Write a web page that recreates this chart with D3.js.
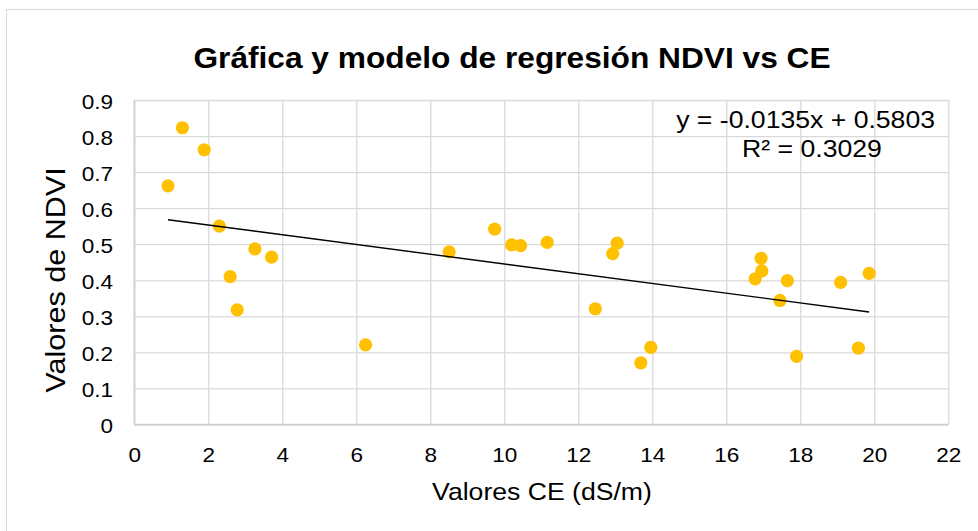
<!DOCTYPE html>
<html>
<head>
<meta charset="utf-8">
<script src="https://cdn.jsdelivr.net/npm/d3@7/dist/d3.min.js"></script>
<style>
  body { margin: 0; background: #fff; }
  svg { display: block; font-family: "Liberation Sans", Arial, sans-serif; }
</style>
</head>
<body>
<script>
const WIDTH = 978;
const HEIGHT = 531;

// data
const ceValues   = [0.91, 1.30, 1.89, 2.30, 2.59, 2.78, 3.26, 3.71, 6.25, 8.51, 9.74, 10.20, 10.44, 11.16,
                    12.46, 12.93, 13.05, 13.69, 13.96, 16.78, 16.94, 16.96, 17.45, 17.65, 17.90, 19.09, 19.57, 19.86];
const ndviValues = [0.662, 0.823, 0.762, 0.550, 0.410, 0.318, 0.487, 0.464, 0.221, 0.479, 0.542, 0.498, 0.496, 0.505,
                    0.321, 0.474, 0.503, 0.171, 0.214, 0.404, 0.461, 0.426, 0.344, 0.399, 0.189, 0.394, 0.212, 0.419];

const xTicks = [0, 2, 4, 6, 8, 10, 12, 14, 16, 18, 20, 22];
const yTicks = [0, 0.1, 0.2, 0.3, 0.4, 0.5, 0.6, 0.7, 0.8, 0.9];
const yTickLabels = ['0', '0.1', '0.2', '0.3', '0.4', '0.5', '0.6', '0.7', '0.8', '0.9'];

const SLOPE = -0.0135;
const INTERCEPT = 0.5803;
const R2 = 0.3029;

const PLOT = { left: 134.3, right: 948.3, top: 100, bottom: 424.5 };
const SX = 1.1;   // text in the original is drawn a bit wider than Arial
const GRID = '#d9d9d9';
const TICK_SIZE = 20.5;

const x = d3.scaleLinear().domain([0, 22]).range([PLOT.left, PLOT.right]);
const y = d3.scaleLinear().domain([0, 0.9]).range([PLOT.bottom, PLOT.top]);

const svg = d3.select('body')
    .append('svg')
    .attr('width', WIDTH)
    .attr('height', HEIGHT);

// chart border
svg.append('rect')
    .attr('x', 6.5).attr('y', 9.5)
    .attr('width', 1000).attr('height', 600)
    .attr('fill', '#fff')
    .attr('stroke', GRID);

// stretched text placed at an anchor point
function label(g, text, px, py, opts) {
    return g.append('text')
        .attr('transform', `translate(${px},${py}) rotate(${opts.rotate || 0}) scale(${SX},1)`)
        .attr('text-anchor', opts.anchor || 'middle')
        .attr('font-size', opts.size)
        .attr('font-weight', opts.weight || 'normal')
        .attr('fill', '#000')
        .text(text);
}

// x grid + labels
const xAxis = svg.append('g')
    .attr('transform', `translate(0,${PLOT.bottom})`)
    .call(d3.axisBottom(x).tickValues(xTicks).tickSize(-(PLOT.bottom - PLOT.top)).tickFormat(d3.format('d')));
xAxis.select('.domain').remove();
xAxis.selectAll('.tick line').attr('stroke', GRID).attr('stroke-width', 1.3);
xAxis.selectAll('.tick text')
    .attr('y', 37.5).attr('dy', null)
    .attr('transform', `scale(${SX},1)`)
    .attr('font-size', TICK_SIZE)
    .attr('font-family', '"Liberation Sans", Arial, sans-serif')
    .attr('fill', '#000');

// y grid + labels
const yAxis = svg.append('g')
    .attr('transform', `translate(${PLOT.left},0)`)
    .call(d3.axisLeft(y).tickValues(yTicks).tickSize(-(PLOT.right - PLOT.left)).tickFormat((d, i) => yTickLabels[i]));
yAxis.select('.domain').remove();
yAxis.selectAll('.tick line').attr('stroke', GRID).attr('stroke-width', 1.3);
yAxis.selectAll('.tick text')
    .attr('x', -21.3 / SX).attr('y', 8).attr('dy', null)
    .attr('transform', `scale(${SX},1)`)
    .attr('font-size', TICK_SIZE)
    .attr('font-family', '"Liberation Sans", Arial, sans-serif')
    .attr('fill', '#000');

// axis lines
svg.append('line')
    .attr('x1', PLOT.left).attr('x2', PLOT.left)
    .attr('y1', PLOT.top).attr('y2', PLOT.bottom)
    .attr('stroke', '#cfcfcf').attr('stroke-width', 1.6);
svg.append('line')
    .attr('x1', PLOT.left).attr('x2', PLOT.right)
    .attr('y1', PLOT.bottom).attr('y2', PLOT.bottom)
    .attr('stroke', '#cfcfcf').attr('stroke-width', 1.6);

// points
const points = ceValues.map((v, i) => ({ ce: v, ndvi: ndviValues[i] }));
svg.append('g')
    .selectAll('circle')
    .data(points)
    .join('circle')
    .attr('cx', d => x(d.ce))
    .attr('cy', d => y(d.ndvi))
    .attr('r', 6.6)
    .attr('fill', '#ffc000');

// linear trendline over the data range
const xExt = d3.extent(ceValues);
const trend = xExt.map(v => ({ ce: v, ndvi: SLOPE * v + INTERCEPT }));
svg.append('path')
    .datum(trend)
    .attr('d', d3.line().x(d => x(d.ce)).y(d => y(d.ndvi)))
    .attr('fill', 'none')
    .attr('stroke', '#000')
    .attr('stroke-width', 1.4);

// texts
label(svg, 'Gráfica y modelo de regresión NDVI vs CE', 512, 68, { size: 28.8, weight: 'bold' });
label(svg, 'Valores CE (dS/m)', 542, 500, { size: 24.2 });
label(svg, 'Valores de NDVI', 65, 280, { size: 27.8, rotate: -90 });
label(svg, `y = ${SLOPE.toFixed(4)}x + ${INTERCEPT.toFixed(4)}`, 935, 128, { size: 24.2, anchor: 'end' });
label(svg, `R² = ${R2.toFixed(4)}`, 812, 157, { size: 24.2 });
</script>
</body>
</html>
